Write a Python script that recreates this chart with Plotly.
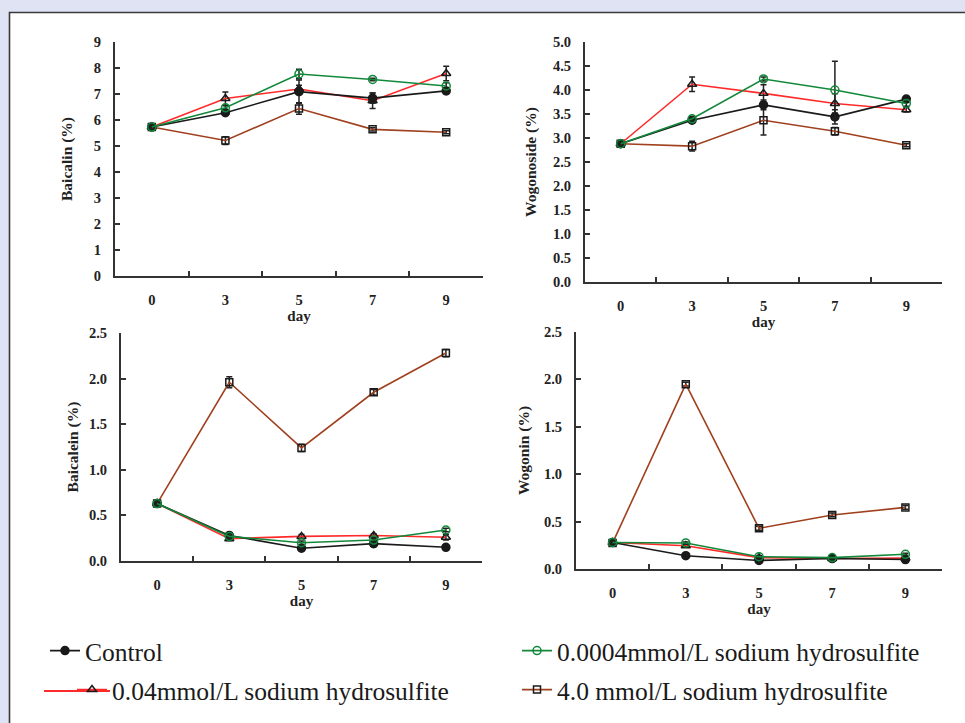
import plotly.graph_objects as go

# ---------------- data ----------------
days = ["0", "3", "5", "7", "9"]
series_names = [
    "Control",
    "0.0004mmol/L sodium hydrosulfite",
    "0.04mmol/L sodium hydrosulfite",
    "4.0 mmol/L sodium hydrosulfite",
]

# Baicalin (%)
baicalin_control = [5.73, 6.28, 7.09, 6.84, 7.12]
baicalin_low = [5.73, 6.47, 7.77, 7.56, 7.31]
baicalin_mid = [5.73, 6.83, 7.19, 6.74, 7.79]
baicalin_high = [5.73, 5.21, 6.44, 5.64, 5.53]
baicalin_control_err = [0.05, 0.08, 0.45, 0.20, 0.10]
baicalin_low_err = [0.05, 0.08, 0.18, 0.05, 0.12]
baicalin_mid_err = [0.05, 0.25, 0.15, 0.30, 0.28]
baicalin_high_err = [0.05, 0.15, 0.22, 0.06, 0.06]

# Wogonoside (%)
wogonoside_control = [2.88, 3.37, 3.69, 3.44, 3.81]
wogonoside_low = [2.88, 3.40, 4.23, 4.00, 3.72]
wogonoside_mid = [2.88, 4.12, 3.93, 3.72, 3.59]
wogonoside_high = [2.88, 2.83, 3.37, 3.14, 2.85]
wogonoside_control_err = [0.03, 0.04, 0.10, 0.15, 0.04]
wogonoside_low_err = [0.03, 0.04, 0.04, 0.60, 0.06]
wogonoside_mid_err = [0.03, 0.15, 0.18, 0.20, 0.05]
wogonoside_high_err = [0.03, 0.10, 0.31, 0.08, 0.03]

# Baicalein (%)
baicalein_control = [0.63, 0.28, 0.14, 0.19, 0.15]
baicalein_low = [0.63, 0.27, 0.20, 0.23, 0.34]
baicalein_mid = [0.63, 0.245, 0.27, 0.28, 0.26]
baicalein_high = [0.63, 1.96, 1.24, 1.85, 2.28]
baicalein_control_err = [0.02, 0.02, 0.02, 0.03, 0.02]
baicalein_low_err = [0.02, 0.02, 0.02, 0.02, 0.02]
baicalein_mid_err = [0.02, 0.02, 0.02, 0.02, 0.03]
baicalein_high_err = [0.02, 0.06, 0.04, 0.03, 0.04]

# Wogonin (%)
wogonin_control = [0.28, 0.14, 0.09, 0.11, 0.10]
wogonin_low = [0.28, 0.275, 0.13, 0.12, 0.155]
wogonin_mid = [0.28, 0.245, 0.12, 0.11, 0.115]
wogonin_high = [0.275, 1.95, 0.43, 0.57, 0.65]
wogonin_control_err = [0.01, 0.01, 0.01, 0.01, 0.01]
wogonin_low_err = [0.01, 0.01, 0.01, 0.01, 0.01]
wogonin_mid_err = [0.01, 0.01, 0.01, 0.01, 0.01]
wogonin_high_err = [0.01, 0.02, 0.02, 0.02, 0.02]

panel_titles = ["Baicalin (%)", "Wogonoside (%)", "Baicalein (%)", "Wogonin (%)"]
y_ranges = [[0, 9], [0, 5], [0, 2.5], [0, 2.5]]
y_dticks = [1, 0.5, 0.5, 0.5]
y_formats = ["d", ".1f", ".1f", ".1f"]

panels = [
    [(baicalin_control, baicalin_control_err), (baicalin_low, baicalin_low_err),
     (baicalin_mid, baicalin_mid_err), (baicalin_high, baicalin_high_err)],
    [(wogonoside_control, wogonoside_control_err), (wogonoside_low, wogonoside_low_err),
     (wogonoside_mid, wogonoside_mid_err), (wogonoside_high, wogonoside_high_err)],
    [(baicalein_control, baicalein_control_err), (baicalein_low, baicalein_low_err),
     (baicalein_mid, baicalein_mid_err), (baicalein_high, baicalein_high_err)],
    [(wogonin_control, wogonin_control_err), (wogonin_low, wogonin_low_err),
     (wogonin_mid, wogonin_mid_err), (wogonin_high, wogonin_high_err)],
]

# ---------------- styling ----------------
W, H = 965, 723
line_colors = ["#1a1a1a", "#12883a", "#ff2a2a", "#a0401e"]
marker_symbols = ["circle", "circle-open", "triangle-up-open", "square-open"]
marker_colors = ["#1a1a1a", "#12883a", "#1a1a1a", "#1a1a1a"]
marker_sizes = [8, 8, 8, 7]
draw_order = [3, 2, 0, 1]

# panel pixel boxes: (x0, x1, ytop, ybottom)
boxes = [(115, 483, 42, 276), (585, 942, 42, 282), (121, 482, 333, 561), (576, 942, 332, 569)]
title_standoffs = [17, 13, 7, 11]

SERIF = "Liberation Serif"

fig = go.Figure()

legend_ids = ["legend", "legend2", "legend3", "legend4"]

for p, data in enumerate(panels):
    xa = "x" if p == 0 else f"x{p+1}"
    ya = "y" if p == 0 else f"y{p+1}"
    for s in draw_order:
        vals, errs = data[s]
        fig.add_trace(go.Scatter(
            x=days, y=vals, xaxis=xa, yaxis=ya,
            name=series_names[s],
            mode="lines+markers",
            line=dict(color=line_colors[s], width=1.6),
            marker=dict(symbol=marker_symbols[s], size=marker_sizes[s],
                        color=marker_colors[s],
                        line=dict(color=marker_colors[s], width=1.5)),
            error_y=dict(type="data", array=errs, visible=True,
                         color="#222222", thickness=1.5, width=3),
            showlegend=(p == 0),
            legend=legend_ids[s],
        ))

layout = dict(
    template="none",
    width=W, height=H,
    margin=dict(l=0, r=0, t=0, b=0, pad=0, autoexpand=False),
    paper_bgcolor="#dfe3f3",
    plot_bgcolor="rgba(0,0,0,0)",
    font=dict(family=SERIF, color="#222222"),
    showlegend=True,
)

for p in range(4):
    x0, x1, yt, yb = boxes[p]
    xk = "xaxis" if p == 0 else f"xaxis{p+1}"
    yk = "yaxis" if p == 0 else f"yaxis{p+1}"
    ya = "y" if p == 0 else f"y{p+1}"
    xa = "x" if p == 0 else f"x{p+1}"
    layout[xk] = dict(
        domain=[x0 / W, x1 / W], anchor=ya,
        type="category", categoryorder="array", categoryarray=days,
        range=[-0.5, 4.5], tickson="boundaries",
        ticks="inside", ticklen=5, tickwidth=1.5, tickcolor="#333333",
        showline=True, linecolor="#333333", linewidth=2,
        showgrid=False, zeroline=False, automargin=False,
        tickfont=dict(family=SERIF, size=14.5, color="#222222", weight="bold"),
        ticklabelstandoff=10,
        title=dict(text="<b>day</b>", font=dict(family=SERIF, size=15, color="#222222"), standoff=3),
    )
    layout[yk] = dict(
        domain=[1 - yb / H, 1 - yt / H], anchor=xa,
        range=y_ranges[p], dtick=y_dticks[p], tick0=0, tickformat=y_formats[p],
        ticks="inside", ticklen=5, tickwidth=1.5, tickcolor="#333333",
        showline=True, linecolor="#333333", linewidth=2,
        showgrid=False, zeroline=False, automargin=False,
        tickfont=dict(family=SERIF, size=14.5, color="#222222", weight="bold"),
        ticklabelstandoff=9,
        title=dict(text=f"<b>{panel_titles[p]}</b>", font=dict(family=SERIF, size=15.5, color="#222222"),
                   standoff=title_standoffs[p]),
    )

# legends (two columns, two rows)
row1, row2 = 651, 690
legend_pos = [(45, row1), (517, row1), (72, row2), (517, row2)]
for i, lid in enumerate(legend_ids):
    lx, ly = legend_pos[i]
    layout[lid] = dict(
        x=lx / W, y=1 - ly / H, xanchor="left", yanchor="middle",
        xref="paper", yref="paper",
        bgcolor="rgba(0,0,0,0)", borderwidth=0,
        font=dict(family=SERIF, size=25.5, color="#1a1a1a"),
        itemclick=False,
    )

fig.update_layout(**layout)

# white panel with dark border
fig.add_shape(type="rect", xref="paper", yref="paper",
              x0=9.5 / W, x1=1.02, y0=-0.02, y1=1 - 12.5 / H,
              fillcolor="white", line=dict(color="#3a3a3a", width=1.6), layer="below")
# longer red legend line of the 0.04 mmol/L entry
fig.add_shape(type="line", xref="paper", yref="paper",
              x0=44 / W, x1=110 / W, y0=1 - (row2 + 1) / H, y1=1 - (row2 + 1) / H,
              line=dict(color="#ff2a2a", width=2), layer="below")

fig.write_html("out.html")
